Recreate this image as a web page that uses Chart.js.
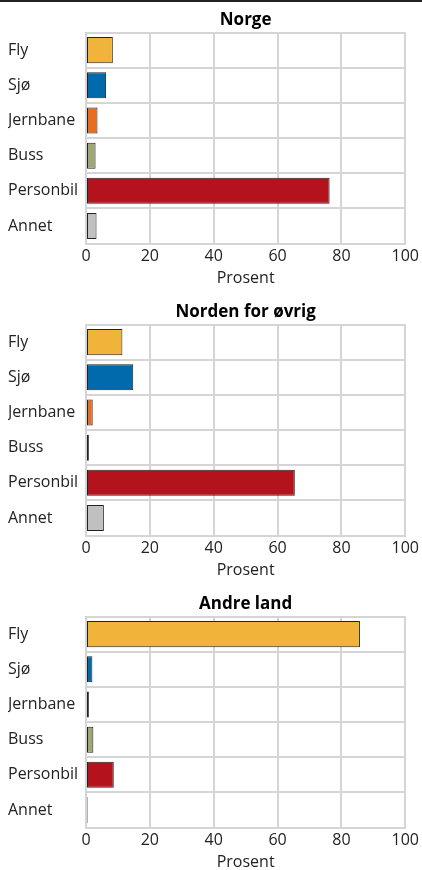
<!DOCTYPE html>
<html>
<head>
<meta charset="UTF-8">
<title>Reisemåte</title>
<style>
  body { margin: 0; background: #fff; }
  .topline { position: absolute; left: 0; top: 0; width: 422px; height: 2px; background: #222; }
  .panel { position: absolute; left: 0; width: 422px; height: 290px; }
</style>
</head>
<body>
<div class="topline"></div>
<div class="panel" style="top:0px"><canvas id="chart1"></canvas></div>
<div class="panel" style="top:292px"><canvas id="chart2"></canvas></div>
<div class="panel" style="top:584px"><canvas id="chart3"></canvas></div>

<script src="https://cdn.jsdelivr.net/npm/chart.js"></script>
<script>
// data
const kategorier = ['Fly', 'Sjø', 'Jernbane', 'Buss', 'Personbil', 'Annet'];
const norge = [8.4, 6.3, 3.6, 3.0, 76.3, 3.3];
const nordenOvrig = [11.4, 14.8, 2.1, 0.9, 65.4, 5.6];
const andreLand = [85.8, 2.0, 0.9, 2.3, 8.7, 0.5];
const xTicks = [0, 20, 40, 60, 80, 100];

const farger = ['#f0b43a', '#006aad', '#e66e1e', '#a0a676', '#b4121d', '#c0c0c2'];

Chart.defaults.font.family = '"Open Sans", sans-serif';
Chart.defaults.font.size = 16;
Chart.defaults.color = '#222';

function lagChart(id, tittel, verdier) {
  return new Chart(document.getElementById(id), {
    type: 'bar',
    data: {
      labels: kategorier,
      datasets: [{
        data: verdier,
        backgroundColor: farger,
        borderColor: '#222',
        borderWidth: 1,
        borderSkipped: false,
        barPercentage: 0.74,
        categoryPercentage: 1
      }]
    },
    options: {
      indexAxis: 'y',
      responsive: true,
      maintainAspectRatio: false,
      animation: false,
      layout: { padding: { left: 8, right: 3, top: 0, bottom: 2 } },
      plugins: {
        legend: { display: false },
        tooltip: { enabled: false },
        title: {
          display: true,
          text: tittel,
          fullSize: false,
          color: '#000',
          font: { size: 17, weight: 'bold', lineHeight: 1.15 },
          padding: { top: 10, bottom: 3 }
        }
      },
      scales: {
        x: {
          min: xTicks[0],
          max: xTicks[xTicks.length - 1],
          afterBuildTicks: (ax) => { ax.ticks = xTicks.map(v => ({ value: v })); },
          grid: { color: '#d5d5d5', lineWidth: 2, drawTicks: false },
          border: { color: '#d5d5d5', width: 2 },
          ticks: { padding: 3, color: '#222' },
          title: { display: true, text: 'Prosent', color: '#222', padding: { top: 0, bottom: 0 } }
        },
        y: {
          grid: { color: '#d5d5d5', lineWidth: 2, drawTicks: false, offset: true },
          border: { color: '#d5d5d5', width: 2 },
          ticks: { crossAlign: 'far', padding: 6, color: '#222' },
          afterFit: (ax) => { ax.width = 78; }
        }
      }
    }
  });
}

lagChart('chart1', 'Norge', norge);
lagChart('chart2', 'Norden for øvrig', nordenOvrig);
lagChart('chart3', 'Andre land', andreLand);
</script>
</body>
</html>
